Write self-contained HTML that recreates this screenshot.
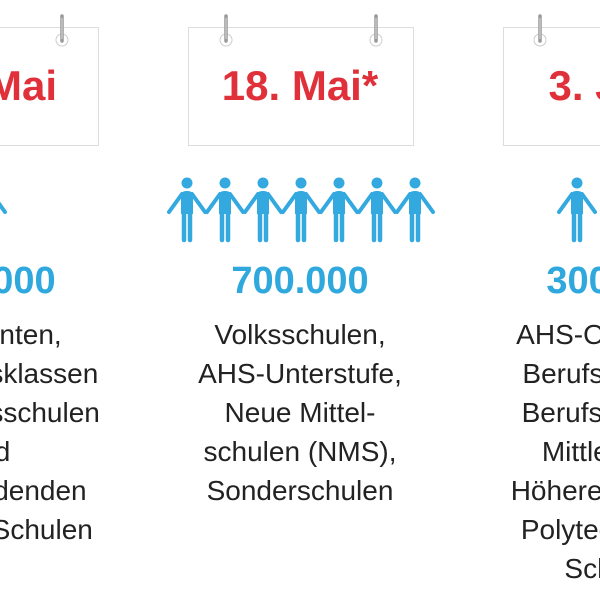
<!DOCTYPE html>
<html><head><meta charset="utf-8"><style>
html,body{margin:0;padding:0;background:#fff;overflow:hidden;}
#w{width:600px;height:600px;position:relative;overflow:hidden;font-family:"Liberation Sans","DejaVu Sans",sans-serif;}
.t{position:absolute;width:300px;text-align:center;color:#222;font-size:28px;line-height:39px;}
.n{position:absolute;width:300px;text-align:center;color:#2fa8de;font-size:38px;font-weight:bold;}
.d{position:absolute;width:300px;text-align:center;color:#e0303a;font-size:42px;font-weight:bold;}
</style></head><body><div id="w">
<svg width="600" height="600" style="position:absolute;left:0;top:0">
<defs>
<g id="pin">
<circle cx="0" cy="40" r="6" fill="none" stroke="#ccc" stroke-width="1"/>
<line x1="0" y1="16" x2="0" y2="41" stroke="#999" stroke-width="3.5" stroke-linecap="round"/>
<line x1="0" y1="18" x2="0" y2="39" stroke="#ddd" stroke-width="1"/>
</g>
<g id="p" fill="#33a9df" stroke="#33a9df">
<circle cx="0" cy="183" r="5.5" stroke="none"/>
<path d="M-6,196 Q-6,191 -1,191 L1,191 Q6,191 6,196 L6,214 L-6,214 Z" stroke="none"/>
<line x1="-3" y1="214" x2="-3" y2="240" stroke-width="4.5" stroke-linecap="round"/>
<line x1="3" y1="214" x2="3" y2="240" stroke-width="4.5" stroke-linecap="round"/>
<line x1="-5" y1="194" x2="-18" y2="212" stroke-width="4" stroke-linecap="round"/>
<line x1="5" y1="194" x2="18" y2="212" stroke-width="4" stroke-linecap="round"/>
</g>
</defs>
<rect x="-126.5" y="27.5" width="225" height="118" fill="#fff" stroke="#ddd"/>
<rect x="188.5" y="27.5" width="225" height="118" fill="#fff" stroke="#ddd"/>
<rect x="503.5" y="27.5" width="225" height="118" fill="#fff" stroke="#ddd"/>
<use href="#pin" x="62"/><use href="#pin" x="226"/><use href="#pin" x="376"/><use href="#pin" x="540"/>
<use href="#p" x="-13"/>
<use href="#p" x="187"/><use href="#p" x="225"/><use href="#p" x="263"/><use href="#p" x="301"/><use href="#p" x="339"/><use href="#p" x="377"/><use href="#p" x="415"/>
<use href="#p" x="577"/>
</svg>
<div class="d" style="left:-163px;top:62px">18. Mai</div>
<div class="d" style="left:150px;top:62px">18. Mai*</div>
<div class="d" style="left:465px;top:62px">3. Juni</div>
<div class="n" style="left:-163px;top:260px">100.000</div>
<div class="n" style="left:150px;top:260px">700.000</div>
<div class="n" style="left:465px;top:260px">300.000</div>
<div class="t" style="left:-163px;top:315px">Maturanten,<br>Abschlussklassen<br>der Berufsschulen<br>und<br>berufsbildenden<br>höheren Schulen</div>
<div class="t" style="left:150px;top:315px">Volksschulen,<br>AHS-Unterstufe,<br>Neue Mittel-<br>schulen (NMS),<br>Sonderschulen</div>
<div class="t" style="left:465px;top:315px">AHS-Oberstufe,<br>Berufsschulen,<br>Berufsbildende<br>Mittlere und<br>Höhere Schulen,<br>Polytechnische<br>Schulen</div>
</div></body></html>
